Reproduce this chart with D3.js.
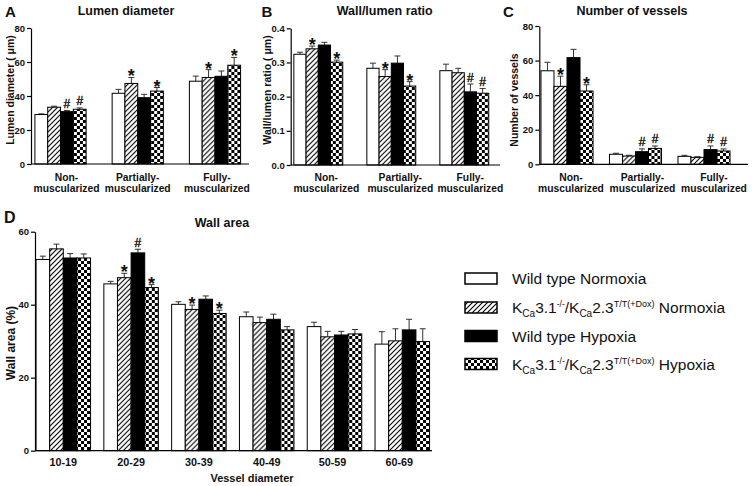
<!DOCTYPE html>
<html><head><meta charset="utf-8">
<script src="https://cdn.jsdelivr.net/npm/d3@7"></script>
<style>
html,body{margin:0;padding:0;background:#fff;}
svg{display:block;}
text{font-family:Arial,"Liberation Sans",sans-serif;fill:#111;}
</style></head>
<body>
<svg id="chart" width="754" height="486"></svg>
<script>
// ---------- DATA ----------
const seriesNames = ["Wild type Normoxia","KCa3.1-/-/KCa2.3T/T(+Dox) Normoxia","Wild type Hypoxia","KCa3.1-/-/KCa2.3T/T(+Dox) Hypoxia"];
const muscCategories = ["Non-muscularized","Partially-muscularized","Fully-muscularized"];
const muscLabelLines = [["Non-","muscularized"],["Partially-","muscularized"],["Fully-","muscularized"]];
const diameterCategories = ["10-19","20-29","30-39","40-49","50-59","60-69"];

const lumenTicks = [0,20,40,60,80];
const lumenMean = [[29.1,33.4,30.8,32.2],[41.6,47.4,39.0,42.9],[48.7,50.9,51.6,58.1]];
const lumenSem  = [[0.4,0.6,0.7,0.8],[2.3,3.5,2.0,2.1],[3.0,4.6,3.1,4.6]];
const lumenMarks = [[0,2,"#"],[0,3,"#"],[1,1,"*"],[1,3,"*"],[2,1,"*"],[2,3,"*"]];

const ratioTicks = [0,0.1,0.2,0.3,0.4];
const ratioMean = [[0.324,0.340,0.351,0.301],[0.283,0.259,0.298,0.231],[0.276,0.270,0.214,0.210]];
const ratioSem  = [[0.006,0.008,0.008,0.006],[0.015,0.020,0.021,0.013],[0.019,0.013,0.023,0.014]];
const ratioMarks = [[0,1,"*"],[0,3,"*"],[1,1,"*"],[1,3,"*"],[2,2,"#"],[2,3,"#"]];

const vesselTicks = [0,20,40,60,80];
const vesselMean = [[54.1,45.1,61.7,42.4],[5.8,4.8,7.3,9.2],[4.6,4.0,8.5,7.7]];
const vesselSem  = [[4.9,5.9,4.8,3.6],[0.6,0.4,1.6,1.4],[0.6,0.4,2.1,1.2]];
const vesselMarks = [[0,1,"*"],[0,3,"*"],[1,2,"#"],[1,3,"#"],[2,2,"#"],[2,3,"#"]];

const wallTicks = [0,20,40,60];
const wallMean = [[52.4,55.3,52.8,52.8],[45.7,47.4,54.2,44.7],[40.1,38.7,41.5,37.6],[36.7,35.1,36.0,33.1],[34.0,31.2,31.7,32.0],[29.2,30.1,33.1,29.9]];
const wallSem  = [[0.9,1.3,1.2,1.1],[0.7,1.2,1.0,0.8],[0.7,1.2,0.9,0.9],[1.3,1.5,1.4,0.9],[1.2,1.5,1.0,1.2],[3.4,3.3,2.9,3.5]];
const wallMarks = [[1,1,"*"],[1,2,"#"],[1,3,"*"],[2,1,"*"],[2,3,"*"]];

// ---------- SETUP ----------
const svg = d3.select("#chart");
const defs = svg.append("defs");
const hatch = defs.append("pattern").attr("id","hatch").attr("patternUnits","userSpaceOnUse")
  .attr("width",5).attr("height",5);
hatch.append("rect").attr("width",5).attr("height",5).attr("fill","#fff");
hatch.append("path").attr("d","M-1,6 L6,-1 M-1,1 L1,-1 M4,6 L6,4").attr("stroke","#000").attr("stroke-width",1.1);
const check = defs.append("pattern").attr("id","check").attr("patternUnits","userSpaceOnUse")
  .attr("width",6).attr("height",6);
check.append("rect").attr("width",6).attr("height",6).attr("fill","#fff");
check.append("rect").attr("width",3).attr("height",3).attr("fill","#000");
check.append("rect").attr("x",3).attr("y",3).attr("width",3).attr("height",3).attr("fill","#000");
const fills = ["#fff","url(#hatch)","#000","url(#check)"];
const seriesIdx = d3.range(seriesNames.length);

function panel(o){
  const g = svg.append("g");
  const y = d3.scaleLinear().domain(o.domain).range(o.yRange);
  const x = d3.scaleBand().domain(o.cats).range(o.xRange).paddingInner(o.pad).paddingOuter(o.pad/2);
  const xs = d3.scaleBand().domain(seriesIdx).range([0,x.bandwidth()]);
  // bars
  o.cats.forEach((c,gi)=>{
    const gg = g.append("g").attr("transform",`translate(${x(c)},0)`);
    seriesIdx.forEach(si=>{
      const v = o.mean[gi][si], e = o.sem[gi][si];
      const cx = xs(si)+xs.bandwidth()/2;
      gg.append("line").attr("x1",cx).attr("x2",cx).attr("y1",y(v)).attr("y2",y(v+e))
        .attr("stroke","#333").attr("stroke-width",1);
      gg.append("line").attr("x1",cx-3).attr("x2",cx+3).attr("y1",y(v+e)).attr("y2",y(v+e))
        .attr("stroke","#333").attr("stroke-width",1);
      gg.append("rect").attr("x",xs(si)).attr("y",y(v)).attr("width",xs.bandwidth()).attr("height",y(o.domain[0])-y(v))
        .attr("fill",fills[si]).attr("stroke","#000").attr("stroke-width",1);
    });
  });
  // marks
  o.marks.forEach(([gi,si,s])=>{
    const cx = x(o.cats[gi])+xs(si)+xs.bandwidth()/2;
    const top = y(o.mean[gi][si]+o.sem[gi][si]);
    const t = g.append("text").attr("x",cx).attr("y", s==="*" ? top+5 : top-2.5)
      .attr("text-anchor","middle").attr("font-size", s==="*"?18:12)
      .attr("font-weight", s==="*"?"bold":"normal").attr("fill","#000").text(s);
    if(s==="#") t.attr("stroke","#000").attr("stroke-width",0.35);
  });
  // y axis
  const ax = g.append("g").attr("transform",`translate(${o.axisX},0)`)
    .call(d3.axisLeft(y).tickValues(o.ticks).tickSize(4).tickPadding(2).tickFormat(o.fmt).tickSizeOuter(0));
  ax.select(".domain").attr("stroke","#000").attr("stroke-width",1.2);
  ax.selectAll(".tick line").attr("stroke","#000").attr("stroke-width",1.2);
  ax.selectAll(".tick text").attr("font-size",9.5).attr("font-weight","bold")
    .attr("font-family","Arial, 'Liberation Sans', sans-serif").attr("fill","#111");
  // x axis line
  g.append("line").attr("x1",o.axisX).attr("x2",o.axisEnd).attr("y1",y(o.domain[0])).attr("y2",y(o.domain[0]))
    .attr("stroke","#000").attr("stroke-width",1.2);
  // category labels
  o.cats.forEach((c,gi)=>{
    const cx = x(c)+x.bandwidth()/2 + (o.labelDx ? o.labelDx[gi] : 0);
    const lines = o.labels[gi];
    lines.forEach((ln,li)=>{
      g.append("text").attr("x",cx).attr("y",o.labelY[li]).attr("text-anchor","middle")
        .attr("font-size",o.labelSize).attr("font-weight","bold").text(ln);
    });
  });
  // y label
  g.append("text").attr("transform",`translate(${o.ylabX},${o.ylabY}) rotate(-90)`)
    .attr("text-anchor","middle").attr("font-size",o.ylabSize).attr("font-weight","bold").text(o.ylab);
  // title + letter
  g.append("text").attr("x",o.titleX).attr("y",o.titleY).attr("text-anchor","middle")
    .attr("font-size",12.5).attr("font-weight","bold").text(o.title);
  g.append("text").attr("x",o.letterX).attr("y",o.letterY)
    .attr("font-size",o.letterSize||15).attr("font-weight","bold").text(o.letter);
}

panel({cats:muscCategories, labels:muscLabelLines, mean:lumenMean, sem:lumenSem, marks:lumenMarks,
  domain:[0,80], yRange:[164,28], ticks:lumenTicks, fmt:d3.format("d"),
  xRange:[21.9,253.6], pad:0.337, axisX:31, axisEnd:249,
  labelY:[180.5,192], labelSize:10.3, labelDx:[6,0,2],
  ylab:"Lumen diameter (  \u03bcm)", ylabX:14, ylabY:90, ylabSize:10.5,
  title:"Lumen diameter", titleX:126, titleY:15, letter:"A", letterX:5, letterY:17});

panel({cats:muscCategories, labels:muscLabelLines, mean:ratioMean, sem:ratioSem, marks:ratioMarks,
  domain:[0,0.4], yRange:[165,28.3], ticks:ratioTicks, fmt:d3.format(".1f"),
  xRange:[281.8,500.8], pad:0.33, axisX:290.7, axisEnd:500,
  labelY:[180.5,192], labelSize:10.3, labelDx:[8,9,6],
  ylab:"Wall/lumen ratio ( \u03bcm)", ylabX:270.5, ylabY:90, ylabSize:10.5,
  title:"Wall/lumen ratio", titleX:384.7, titleY:15, letter:"B", letterX:261.5, letterY:17});

panel({cats:muscCategories, labels:muscLabelLines, mean:vesselMean, sem:vesselSem, marks:vesselMarks,
  domain:[0,80], yRange:[164.3,26], ticks:vesselTicks, fmt:d3.format("d"),
  xRange:[532.75,738.25], pad:0.24, axisX:539.3, axisEnd:748,
  labelY:[180.5,192], labelSize:10.3, labelDx:[4,7,10],
  ylab:"Number of vessels", ylabX:517.5, ylabY:100, ylabSize:10.5,
  title:"Number of vessels", titleX:632, titleY:15, letter:"C", letterX:503, letterY:17});

panel({cats:diameterCategories, labels:diameterCategories.map(d=>[d]), mean:wallMean, sem:wallSem, marks:wallMarks,
  domain:[0,60], yRange:[450.7,231.7], ticks:wallTicks, fmt:d3.format("d"),
  xRange:[29.4,436.2], pad:0.196, axisX:35, axisEnd:432,
  labelY:[466], labelSize:10.8, labelDx:[0,0,0,0,-2,-3],
  ylab:"Wall area (%)", ylabX:14.5, ylabY:343, ylabSize:12,
  title:"Wall area", titleX:222, titleY:227, letter:"D", letterX:4, letterY:223, letterSize:16});

// x title D
svg.append("text").attr("x",252).attr("y",482).attr("text-anchor","middle")
  .attr("font-size",11).attr("font-weight","bold").text("Vessel diameter");

// ---------- LEGEND ----------
const legRowY = [278.5,307.5,336,364];
const leg = svg.append("g");
seriesIdx.forEach(si=>{
  const ry = legRowY[si];
  leg.append("rect").attr("x",465).attr("y",ry-5.5).attr("width",32).attr("height",11)
    .attr("fill",fills[si]).attr("stroke","#000").attr("stroke-width",1.5);
  const t = leg.append("text").attr("x",512).attr("y",ry+5.5).attr("font-size",15.5).attr("fill","#222");
  const name = seriesNames[si];
  if(name.startsWith("Wild")){
    t.text(name);
  } else {
    const cond = name.split(" ").pop();
    t.append("tspan").text("K");
    t.append("tspan").attr("font-size",10).attr("dy",4).text("Ca");
    t.append("tspan").attr("dy",-4).text("3.1");
    t.append("tspan").attr("font-size",8.5).attr("dy",-6).text("-/-");
    t.append("tspan").attr("dy",6).text("/K");
    t.append("tspan").attr("font-size",10).attr("dy",4).text("Ca");
    t.append("tspan").attr("dy",-4).text("2.3");
    t.append("tspan").attr("font-size",9).attr("dy",-6).text("T/T(+Dox)");
    t.append("tspan").attr("dy",6).text(" "+cond);
  }
});
</script>
</body></html>
